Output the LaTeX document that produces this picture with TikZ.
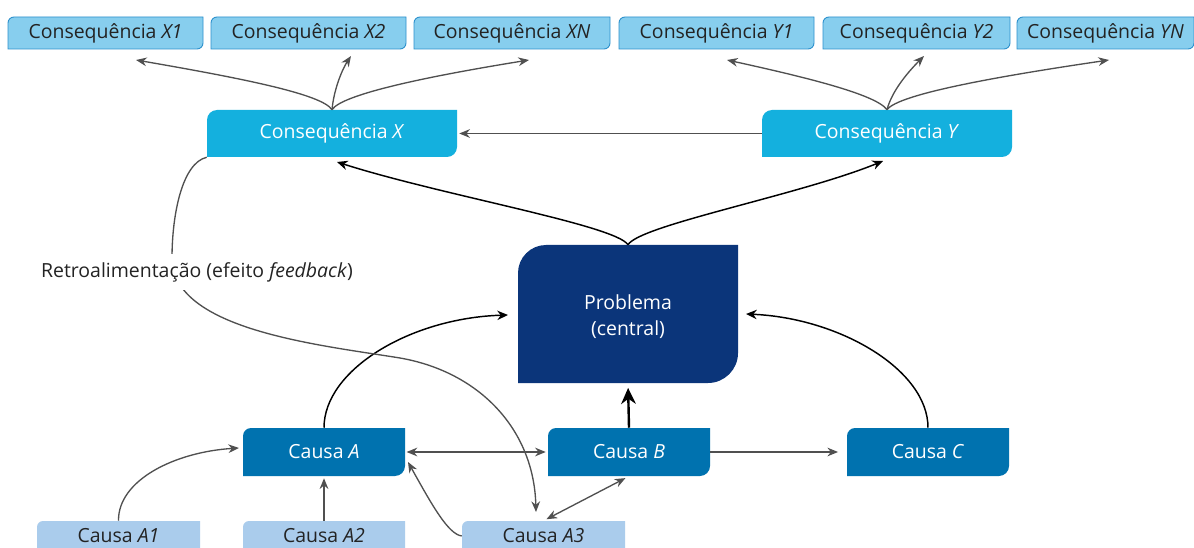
\documentclass[tikz,border=0pt]{standalone}
\usepackage{fontspec}
\setmainfont{Open Sans}
\usetikzlibrary{arrows.meta,calc}

\definecolor{topfill}{RGB}{135,206,238}
\definecolor{topline}{RGB}{45,145,205}
\definecolor{consfill}{RGB}{20,176,222}
\definecolor{probfill}{RGB}{11,53,122}
\definecolor{causefill}{RGB}{0,114,175}
\definecolor{subfill}{RGB}{170,204,236}
\definecolor{graylink}{RGB}{80,80,80}
\definecolor{txtdark}{RGB}{35,35,35}

\tikzset{
  box/.style={rectangle, inner sep=0pt, align=center, font=\fontsize{14.6}{19.5}\selectfont},
  top shape/.style={fill=topfill, draw=topline, line width=0.7pt},
  top text/.style={text=txtdark},
  cons shape/.style={fill=consfill},
  cons text/.style={text=white},
  prob shape/.style={fill=probfill},
  prob text/.style={text=white},
  cause shape/.style={fill=causefill},
  cause text/.style={text=white},
  sub shape/.style={fill=subfill},
  sub text/.style={text=txtdark},
  glink/.style={draw=graylink, line width=1pt, -{Stealth[length=8pt,width=6.5pt]}},
  gboth/.style={draw=graylink, line width=1pt, {Stealth[length=8pt,width=6.5pt]}-{Stealth[length=8pt,width=6.5pt]}},
  blink/.style={draw=black, line width=1.1pt, -{Stealth[length=8pt,width=7pt]}},
  bthick/.style={draw=black, line width=1.8pt, -{Stealth[length=12pt,width=11pt]}},
  retrolabel/.style={fill=white, text=txtdark, inner xsep=2pt, inner ysep=6pt, font=\fontsize{14.6}{17}\selectfont},
}

% #1 name, #2 x1, #3 y1, #4 x2, #5 y2, #6 r top-left, #7 r bottom-right, #8 kind, #9 text
\newcommand\mkbox[9]{%
  \path[#8 shape] ({#2},{#5}) -- ({#2},{#3+#6})
    .. controls ({#2},{#3+0.45*#6}) and ({#2+0.45*#6},{#3}) .. ({#2+#6},{#3})
    -- ({#4},{#3}) -- ({#4},{#5-#7})
    .. controls ({#4},{#5-0.45*#7}) and ({#4-0.45*#7},{#5}) .. ({#4-#7},{#5}) -- cycle;
  \node[box, #8 text, minimum width={(#4-#2)*0.75pt}, minimum height={(#5-#3)*0.75pt}]
    (#1) at ({(#2+#4)/2},{(#3+#5)/2}) {#9};}

\begin{document}
\begin{tikzpicture}[x=0.75pt,y=-0.75pt]
\useasboundingbox (0,0) rectangle (1194,548);
\fill[white] (0,0) rectangle (1194,548);

% top row
\mkbox{x1}{8}{17}{203}{49}{6}{6}{top}{Consequência \textit{X1}}
\mkbox{x2}{211}{17}{406}{49}{6}{6}{top}{Consequência \textit{X2}}
\mkbox{xn}{414}{17}{610}{49}{6}{6}{top}{Consequência \textit{XN}}
\mkbox{y1}{619}{17}{814}{49}{6}{6}{top}{Consequência \textit{Y1}}
\mkbox{y2}{823}{17}{1010}{49}{6}{6}{top}{Consequência \textit{Y2}}
\mkbox{yn}{1017}{17}{1194}{49}{6}{6}{top}{Consequência \textit{YN}}

% consequences
\mkbox{consX}{207}{110}{457}{157}{10}{10}{cons}{Consequência \textit{X}}
\mkbox{consY}{762}{110}{1012}{157}{10}{10}{cons}{Consequência \textit{Y}}

% problem
\mkbox{prob}{518}{245}{738}{383}{28}{30}{prob}{\rule{0pt}{15pt}Problema\\(central)}

% causes
\mkbox{cA}{243}{428}{405}{476}{8}{10}{cause}{Causa \textit{A}}
\mkbox{cB}{548}{428}{710}{476}{8}{10}{cause}{Causa \textit{B}}
\mkbox{cC}{847}{428}{1009}{476}{8}{10}{cause}{Causa \textit{C}}

% sub-causes
\mkbox{sA1}{37}{521}{200}{551}{6}{0}{sub}{Causa \textit{A1}}
\mkbox{sA2}{243}{521}{405}{551}{6}{0}{sub}{Causa \textit{A2}}
\mkbox{sA3}{462}{521}{625}{551}{6}{0}{sub}{Causa \textit{A3}}

% arrow tip coordinates
\coordinate (tx1) at (136,60);
\coordinate (tx2) at (351,56);
\coordinate (txn) at (529,60);
\coordinate (ty1) at (727,60);
\coordinate (ty2) at (924,56);
\coordinate (tyn) at (1109,60);
\coordinate (tconsX) at (337,162);
\coordinate (tconsY) at (883,161);
\coordinate (tprobL) at (508,315);
\coordinate (tprobR) at (746,314);
\coordinate (tA1) at (239,448);
\coordinate (tA3) at (408,462);
\coordinate (tretro) at (536,512);

% top fans
\draw[glink] (consX.north) .. controls (322,94) and (240,78) .. (tx1);
\draw[glink] (consX.north) .. controls (334,88) and (343,68) .. (tx2);
\draw[glink] (consX.north) .. controls (342,94) and (430,76) .. (txn);
\draw[glink] (consY.north) .. controls (876,94) and (800,76) .. (ty1);
\draw[glink] (consY.north) .. controls (892,90) and (910,70) .. (ty2);
\draw[glink] (consY.north) .. controls (898,94) and (1000,76) .. (tyn);

% Y -> X
\draw[glink, shorten >=1.5pt] (consY.west) -- (consX.east);

% problem -> consequences
\draw[blink] (prob.north) .. controls (615,225) and (440,195) .. (tconsX);
\draw[blink] (prob.north) .. controls (640,225) and (800,195) .. (tconsY);

% causes -> problem
\draw[blink] (cA.north) .. controls (324,370) and (410,318) .. (tprobL);
\draw[blink] (cC.north) .. controls (928,370) and (840,318) .. (tprobR);
\draw[bthick, shorten >=3.5pt] (cB.north) -- (prob.south);

% between causes
\draw[gboth, shorten <=1pt, shorten >=1.5pt] (cA.east) -- (cB.west);
\draw[glink, shorten >=6.5pt] (cB.east) -- (cC.west);

% sub-causes
\draw[glink] (sA1.north) .. controls (118,480) and (175,452) .. (tA1);
\draw[glink, shorten >=1.5pt] (sA2.north) -- (cA.south);
\draw[glink] (sA3.west) .. controls (448,534) and (432,505) .. (tA3);
\draw[gboth, shorten <=2.5pt, shorten >=3pt] (sA3.north) -- (cB.south);

% feedback
\draw[glink] (consX.south west) .. controls (182,163) and (172,215) .. (172,258)
  .. controls (172,330) and (320,345) .. (400,358)
  .. controls (480,372) and (534,430) .. (tretro);
\node[retrolabel] (retro) at (197,272) {Retroalimentação (efeito \textit{feedback})};

\end{tikzpicture}
\end{document}
